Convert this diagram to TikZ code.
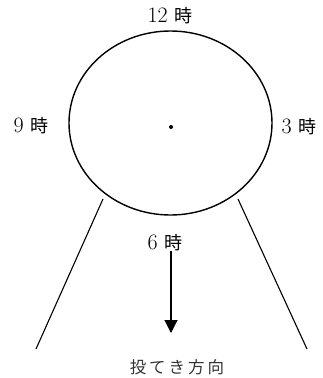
\documentclass[tikz,border=0pt]{standalone}
\usepackage{fontspec}
\newfontfamily\cjk{Noto Sans CJK JP}
\usetikzlibrary{arrows.meta,shapes.geometric}
\newcommand{\ji}{{\fontsize{18}{20}\selectfont\cjk 時}}
\begin{document}
\begin{tikzpicture}[x=1pt,y=-1pt,
  lbl/.style={inner sep=0pt,font=\fontsize{22}{24}\selectfont},
  ln/.style={line width=1.1pt}]
\useasboundingbox (0,0) rectangle (322,378);
\node[draw,ellipse,minimum width=203pt,minimum height=184pt,line width=1.4pt,inner sep=0pt] (c) at (170.5,123) {};
\fill (171,127) circle (2pt);
\node[lbl] (t12) at (170,16) {12 \ji};
\node[lbl] (t9) at (31,126) {9 \ji};
\node[lbl] (t3) at (299,127) {3 \ji};
\node[lbl] (t6) at (165,243) {6 \ji};
\coordinate (la) at (103,199);
\coordinate (lb) at (36,349);
\coordinate (ra) at (238,199);
\coordinate (rb) at (307,349);
\draw[ln] (la) -- (lb);
\draw[ln] (ra) -- (rb);
\coordinate (as) at (171,251);
\coordinate (ae) at (171,333);
\draw[ln,-{Triangle[length=13pt,width=13pt]}] (as) -- (ae);
\node[lbl,font=\fontsize{16.5}{18}\selectfont\cjk,text=black!80] (dir) at (177,367) {投\hspace{3pt}て\hspace{3pt}き\hspace{3pt}方\hspace{3pt}向};
\end{tikzpicture}
\end{document}
